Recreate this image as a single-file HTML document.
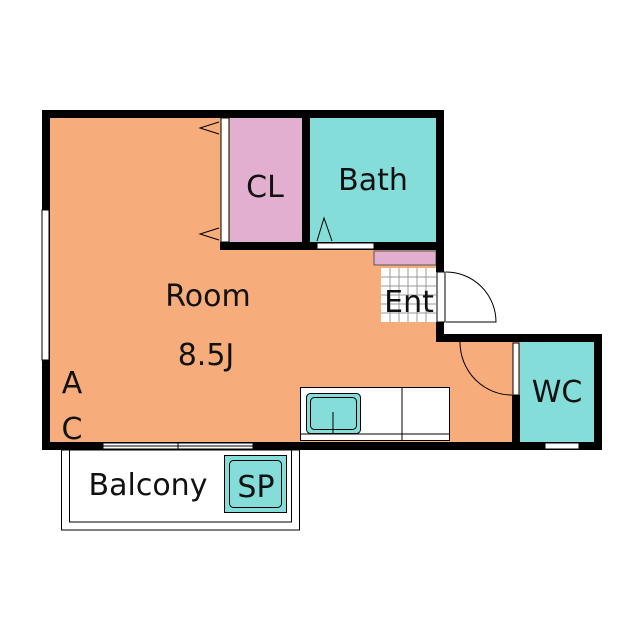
<!DOCTYPE html><html><head><style>body{margin:0;background:#fff}svg{display:block}text{font-family:"DejaVu Sans","Liberation Sans",sans-serif;fill:#111}</style></head><body>
<svg width="640" height="640" viewBox="0 0 640 640">
<rect width="640" height="640" fill="#fff"/>
<path d="M50 118 H436 V342 H594 V442 H50 Z" fill="#f6ad7b"/>
<rect x="230" y="118" width="72" height="124" fill="#e2afd0"/>
<rect x="310" y="118" width="126" height="124" fill="#84ddd8"/>
<rect x="520" y="342" width="74" height="100" fill="#84ddd8"/>
<rect x="381" y="268" width="55" height="54" fill="#fff"/>
<g stroke="#999" stroke-width="1">
<path d="M381 277H436M381 286H436M381 295H436M381 304H436M381 313H436M390 268V322M399 268V322M408 268V322M417 268V322M426 268V322"/>
</g>
<rect x="374" y="251" width="62" height="14" fill="#e2afd0" stroke="#555" stroke-width="1"/>
<g fill="#000">
<rect x="42" y="110" width="402" height="8"/>
<rect x="42" y="110" width="8" height="340"/>
<rect x="42" y="442" width="560" height="8"/>
<rect x="436" y="110" width="8" height="162"/>
<rect x="436" y="322" width="8" height="20"/>
<rect x="436" y="334" width="166" height="8"/>
<rect x="594" y="334" width="8" height="116"/>
<rect x="302" y="118" width="8" height="130"/>
<rect x="220" y="242" width="224" height="8"/>
<rect x="512" y="395" width="8" height="55"/>
</g>
<rect x="221" y="118" width="8" height="124" fill="#fff" stroke="#000" stroke-width="1"/>
<path d="M219 122 L200 128 L219 134 M219 228 L200 234 L219 240" fill="none" stroke="#000"/>
<rect x="317" y="243" width="57" height="6" fill="#fff" stroke="#000" stroke-width="1"/>
<path d="M317 241 L324 218 L332 241" fill="none" stroke="#000"/>
<rect x="437" y="272" width="8" height="50" fill="#fff" stroke="#000" stroke-width="1"/>
<path d="M446 272 A50 50 0 0 1 496 322 H446" fill="#fff" stroke="#000"/>
<rect x="513" y="343" width="6" height="52" fill="#fff" stroke="#000" stroke-width="1"/>
<path d="M512 395 A52 53 0 0 1 460 342" fill="none" stroke="#000"/>
<rect x="42" y="210" width="7" height="150" fill="#fff" stroke="#000" stroke-width="1"/>
<rect x="103" y="443" width="150" height="6" fill="#fff" stroke="#000" stroke-width="1"/>
<path d="M103 446H253M178 443V449" stroke="#000" stroke-width="1"/>
<rect x="545" y="443" width="34" height="6" fill="#fff" stroke="#000" stroke-width="1"/>
<rect x="61.5" y="450" width="238" height="80" fill="#fff" stroke="#000" stroke-width="1"/>
<rect x="69.5" y="450" width="222" height="72" fill="#fff" stroke="#000" stroke-width="1"/>
<rect x="224.5" y="455.5" width="62" height="57" fill="#84ddd8" stroke="#000"/>
<rect x="229.5" y="460.5" width="52" height="47" rx="4" fill="none" stroke="#000"/>
<rect x="300.5" y="387.5" width="149" height="53" fill="#fff" stroke="#000" stroke-width="1"/>
<path d="M402 387V440M300 434H449" stroke="#000" stroke-width="1"/>
<rect x="306.5" y="393.5" width="54" height="40" rx="4" fill="#84ddd8" stroke="#000"/>
<rect x="310.5" y="397.5" width="46" height="32" rx="4" fill="none" stroke="#000"/>
<path d="M333 412V433" stroke="#000"/>
<text x="265" y="197" font-size="30" text-anchor="middle">CL</text>
<text x="373" y="190" font-size="30" text-anchor="middle">Bath</text>
<text x="208" y="306" font-size="30" text-anchor="middle">Room</text>
<text x="206" y="365" font-size="30" text-anchor="middle">8.5J</text>
<text x="409" y="312" font-size="30" text-anchor="middle">Ent</text>
<text x="557" y="402" font-size="30" text-anchor="middle">WC</text>
<text x="72" y="393" font-size="30" text-anchor="middle">A</text>
<text x="72" y="439" font-size="30" text-anchor="middle">C</text>
<text x="148" y="495" font-size="30" text-anchor="middle">Balcony</text>
<text x="256" y="497" font-size="30" text-anchor="middle">SP</text>
</svg></body></html>
